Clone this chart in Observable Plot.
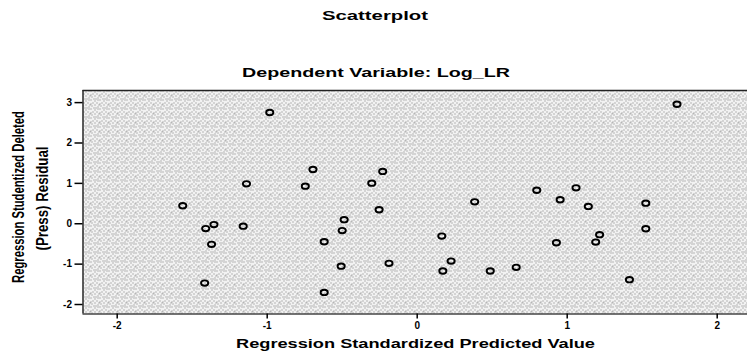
<!DOCTYPE html>
<html>
<head>
<meta charset="utf-8">
<script src="https://cdn.jsdelivr.net/npm/d3@7"></script>
<script src="https://cdn.jsdelivr.net/npm/@observablehq/plot@0.6"></script>
<style>
  html, body { margin: 0; padding: 0; background: #fff; }
  #chart svg { display: block; }
</style>
</head>
<body>
<div id="chart"></div>
<script>
// Regression Standardized Predicted Value (x) and Studentized Deleted Residual (y)
const predicted = [
  -1.563, -1.138, -1.410, -1.355, -1.371, -1.160, -1.417,
  -0.983, -0.695, -0.746, -0.230, -0.303, -0.254, -0.487, -0.500, -0.620,
   0.383,  0.164, -0.507, -0.188,  0.226,  0.171,  0.487, -0.620,
   0.660,  1.732,  0.797,  1.059,  0.953,  1.141,  1.524,  1.524,
   1.216,  1.190,  0.928,  1.415
];
const residual = [
   0.446,  0.990, -0.120, -0.020, -0.510, -0.060, -1.470,
   2.755,  1.344,  0.930,  1.295,  1.005,  0.347,  0.100, -0.170, -0.446,
   0.544, -0.306, -1.050, -0.980, -0.925, -1.170, -1.170, -1.700,
  -1.080,  2.960,  0.830,  0.890,  0.594,  0.428,  0.510, -0.124,
  -0.270, -0.455, -0.470, -1.386
];
const xTicks = [-2, -1, 0, 1, 2];
const yTicks = [-2, -1, 0, 1, 2, 3];
const xDomain = [-2.228, 2.202];
const yDomain = [-2.235, 3.30];

const points = predicted.map((p, i) => ({p, r: residual[i]}));

// small open ellipse marker
const ellipse = {
  draw(ctx) {
    const rx = 3.6, ry = 2.7, k = 0.5523;
    ctx.moveTo(rx, 0);
    ctx.bezierCurveTo(rx, ry * k, rx * k, ry, 0, ry);
    ctx.bezierCurveTo(-rx * k, ry, -rx, ry * k, -rx, 0);
    ctx.bezierCurveTo(-rx, -ry * k, -rx * k, -ry, 0, -ry);
    ctx.bezierCurveTo(rx * k, -ry, rx, -ry * k, rx, 0);
    ctx.closePath();
  }
};

const plot = Plot.plot({
  width: 747,
  height: 353,
  marginLeft: 82.5,
  marginRight: 0,
  marginTop: 90,
  marginBottom: 39.5,
  style: {fontFamily: "'Liberation Sans', Arial, sans-serif", fontWeight: "bold", fontSize: "10px", color: "#000", background: "#fff"},
  x: {domain: xDomain, label: null},
  y: {domain: yDomain, label: null},
  marks: [
    Plot.frame({fill: "#d8d8d8", stroke: null}),
    Plot.ruleX([xDomain[0]], {stroke: "#333", strokeWidth: 1.6}),
    Plot.ruleY([yDomain[1]], {stroke: "#222", strokeWidth: 1.6}),
    Plot.ruleY([yDomain[0]], {stroke: "#444", strokeWidth: 1.6}),
    Plot.axisX({ticks: xTicks, tickSize: 5, tickPadding: 3, tickFormat: d => String(d), strokeWidth: 1.5, fill: "#000"}),
    Plot.axisY({ticks: yTicks, tickSize: 8, tickPadding: 3, tickFormat: d => String(d), strokeWidth: 1.5, fill: "#000"}),
    Plot.dot(points, {x: "p", y: "r", symbol: ellipse, r: 3, stroke: "#000", strokeWidth: 1.9, fill: "none"})
  ]
});

const svg = d3.select(plot);
// stipple pattern for the plot area
const defs = svg.insert("defs", ":first-child");
const pat = defs.append("pattern").attr("id", "stipple").attr("patternUnits", "userSpaceOnUse")
  .attr("width", 9).attr("height", 9);
pat.append("rect").attr("width", 9).attr("height", 9).attr("fill", "#f2f2f2");
const dotsPx = [[0,0],[4,1],[7,0],[2,3],[6,3],[8,5],[1,6],[4,5],[5,8],[3,8],[7,7],[0,4]];
dotsPx.forEach(([a, b]) => pat.append("rect").attr("x", a).attr("y", b).attr("width", 1).attr("height", 1).attr("fill", "#7a7a7a"));
svg.select("[aria-label=frame]").selectAll("rect").attr("fill", "url(#stipple)");
svg.select("[aria-label=frame]").attr("fill", "url(#stipple)");

const font = "'Liberation Sans', Arial, sans-serif";
function label(txt, x, y, size, len, rotate) {
  return svg.append("text")
    .attr("transform", `translate(${x},${y})` + (rotate ? " rotate(-90)" : ""))
    .attr("text-anchor", "middle")
    .attr("font-family", font)
    .attr("font-weight", "bold")
    .attr("font-size", size)
    .attr("fill", "#000")
    .attr("textLength", len)
    .attr("lengthAdjust", "spacingAndGlyphs")
    .text(txt);
}
label("Scatterplot", 375, 20, 12, 106, false);
label("Dependent Variable: Log_LR", 376, 77, 12.5, 268, false);
label("Regression Standardized Predicted Value", 415.5, 348, 13, 359, false);
label("Regression Studentized Deleted", 23.5, 197, 16.5, 172, true);
label("(Press) Residual", 48, 198.5, 16.5, 104, true);

document.getElementById("chart").appendChild(plot);
</script>
</body>
</html>
